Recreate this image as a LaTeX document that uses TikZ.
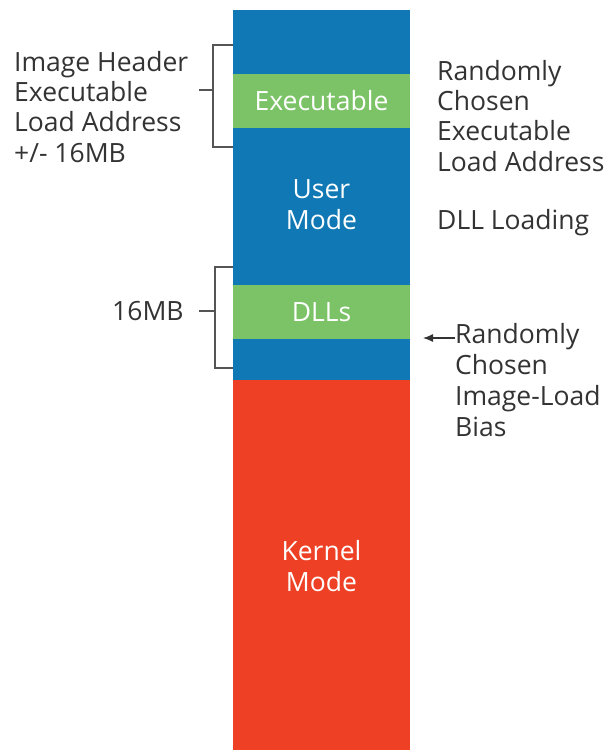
\documentclass[tikz,border=0pt]{standalone}
\usepackage{fontspec}
\setmainfont{Open Sans}
\usetikzlibrary{arrows.meta}
\definecolor{ublue}{HTML}{1078B4}
\definecolor{ugreen}{HTML}{7CC368}
\definecolor{ured}{HTML}{EE4024}
\definecolor{txt}{HTML}{333333}
\definecolor{brk}{HTML}{555555}
\tikzset{
  seg/.style={draw=none, minimum width=177pt, inner sep=0pt, outer sep=0pt},
  inlabel/.style={text=white, align=center, font=\fontsize{26.5}{31}\selectfont, inner sep=0pt},
  sidelabel/.style={text=txt, align=left, font=\fontsize{26.5}{30.3}\selectfont, inner sep=0pt, anchor=north west},
  bracket/.style={draw=brk, line width=1.4pt},
}
\begin{document}
\begin{tikzpicture}[x=1pt,y=-1pt]
\useasboundingbox (0,0) rectangle (612,750);
% column
\node[seg, fill=ublue, minimum height=370pt] (user) at (321.5,195) {};
\node[seg, fill=ured, minimum height=370pt] (kernel) at (321.5,565) {};
\node[seg, fill=ugreen, minimum height=54pt] (exe) at (321.5,101) {};
\node[seg, fill=ugreen, minimum height=54pt] (dlls) at (321.5,312) {};
% inner labels
\node[inlabel] (exet) at (exe.center) {Executable};
\node[inlabel] (usert) at (321.5,205) {User\\Mode};
\node[inlabel] (dllst) at (dlls.center) {DLLs};
\node[inlabel] (kernelt) at (321.5,566) {Kernel\\Mode};
% left labels
\node[sidelabel] (hdr) at (14,51) {Image Header\\Executable\\Load Address\\+/- 16MB};
\node[sidelabel, anchor=west] (mb) at (112,311.5) {16MB};
% right labels
\node[sidelabel] (rnd) at (437,60) {Randomly\\Chosen\\Executable\\Load Address};
\node[sidelabel, anchor=base west] (dllload) at (437,229) {DLL Loading};
\node[sidelabel, font=\fontsize{26.5}{31.2}\selectfont] (bias) at (455,323) {Randomly\\Chosen\\Image-Load\\Bias};
% brackets
\coordinate (b1t) at (213,45);
\coordinate (b1b) at (213,147);
\coordinate (b1m) at (213,90);
\coordinate (b1x) at (199,90);
\draw[bracket] (user.west |- b1t) -- (b1t) -- (b1b) -- (user.west |- b1b);
\draw[bracket] (b1m) -- (b1x);
\coordinate (b2t) at (215,267);
\coordinate (b2b) at (215,368);
\coordinate (b2m) at (215,311);
\coordinate (b2x) at (199,311);
\draw[bracket] (user.west |- b2t) -- (b2t) -- (b2b) -- (user.west |- b2b);
\draw[bracket] (b2m) -- (b2x);
% arrow
\coordinate (arrs) at (455,338);
\coordinate (arre) at (423,338);
\draw[draw=txt, line width=1.2pt, -{Latex[length=10pt,width=8pt]}] (arrs) -- (arre);
\end{tikzpicture}
\end{document}
